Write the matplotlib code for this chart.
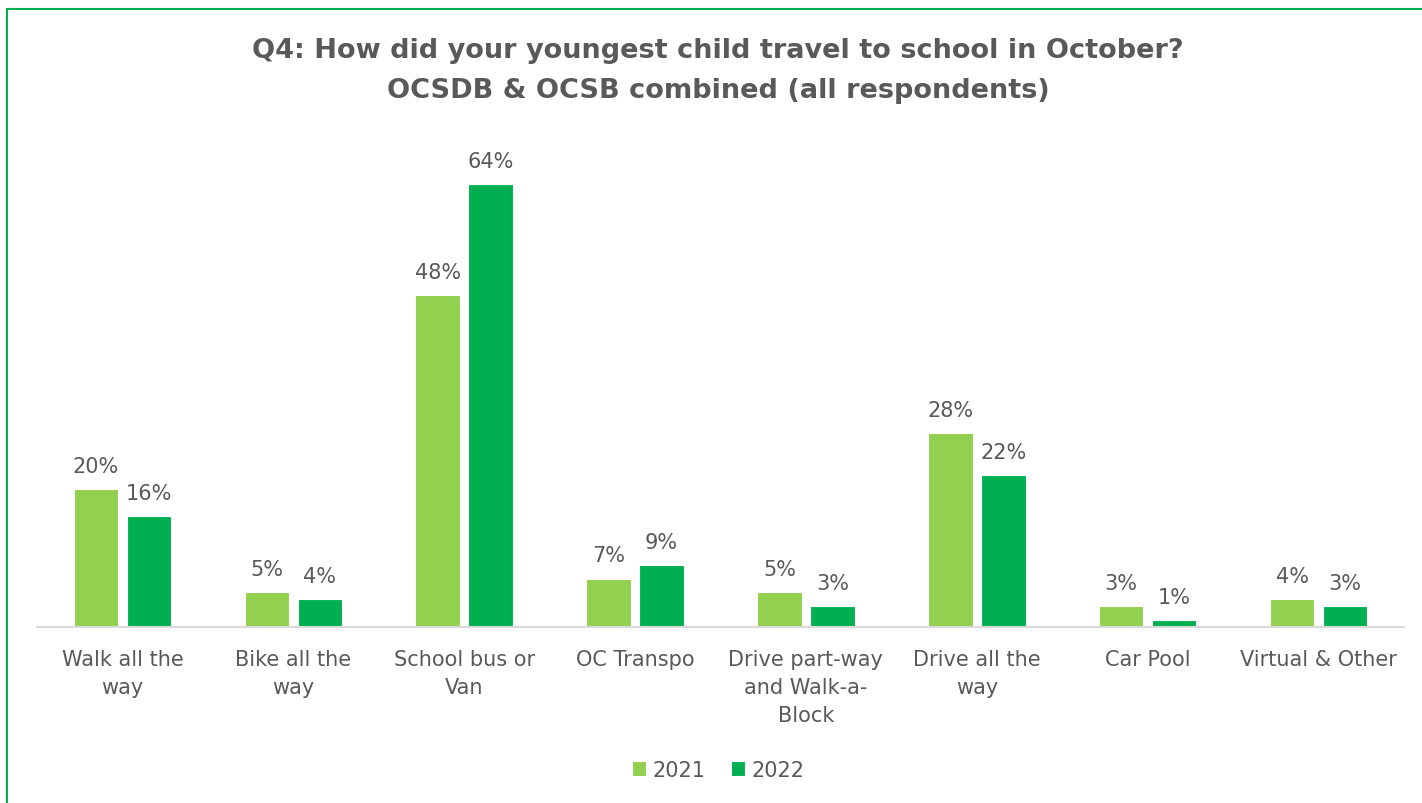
import numpy as np
import matplotlib.pyplot as plt
from matplotlib.patches import Rectangle

plt.rcParams['font.family'] = ['DejaVu Sans']

categories = ['Walk all the\nway', 'Bike all the\nway', 'School bus or\nVan', 'OC Transpo',
              'Drive part-way\nand Walk-a-\nBlock', 'Drive all the\nway', 'Car Pool',
              'Virtual & Other']
y2021 = [20, 5, 48, 7, 5, 28, 3, 4]
y2022 = [16, 4, 64, 9, 3, 22, 1, 3]

C21 = '#92D050'
C22 = '#00B050'
TXT = '#595959'

fig = plt.figure(figsize=(14.22, 8.04), dpi=100)
ax = fig.add_axes([37/1422, 1 - 628/804, 1367/1422, 484/804])

x = np.arange(len(categories))
w = 0.26
off = 0.155
b1 = ax.bar(x - off, y2021, w, color=C21, edgecolor='white', linewidth=0.8, label='2021')
b2 = ax.bar(x + off, y2022, w, color=C22, edgecolor='white', linewidth=0.8, label='2022')

# value labels above each bar
for bars, vals in ((b1, y2021), (b2, y2022)):
    for b, v in zip(bars, vals):
        ax.text(b.get_x() + b.get_width() / 2, v + 1.9, f'{v}%', ha='center', va='bottom',
                fontsize=15, color=TXT)

ax.set_xlim(-0.5, len(categories) - 0.5)
ax.set_ylim(0, 70)
ax.set_yticks([])
for s in ['top', 'right', 'left']:
    ax.spines[s].set_visible(False)
ax.spines['bottom'].set_color('#D9D9D9')
ax.spines['bottom'].set_linewidth(1.5)
ax.set_xticks(x)
ax.set_xticklabels(categories, fontsize=15, color=TXT, linespacing=1.5)
ax.tick_params(axis='x', length=0, pad=16)

fig.text(0.505, 1 - 71/804, 'Q4: How did your youngest child travel to school in October?\n'
         'OCSDB & OCSB combined (all respondents)', ha='center', va='center',
         fontsize=19.5, fontweight='bold', color=TXT, linespacing=1.75)

fig.legend(handles=[b1, b2], labels=['2021', '2022'], loc='center',
           bbox_to_anchor=(0.505, 1 - 771/804), ncol=2, frameon=False, fontsize=15,
           handlelength=0.7, handleheight=0.7, handletextpad=0.3, columnspacing=1.2,
           labelcolor=TXT)

fig.patches.append(Rectangle((7/1422, -0.05), 1.2, 1 - 10/804 + 0.05, transform=fig.transFigure,
                             fill=False, edgecolor=C22, linewidth=1.5))

fig.savefig('out.png', dpi=100)
